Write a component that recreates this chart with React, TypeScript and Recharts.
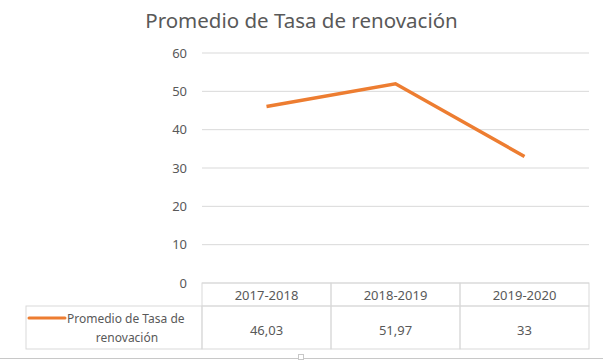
import React from 'react';
import { LineChart, Line, XAxis, YAxis, CartesianGrid } from 'recharts';

const categories = ['2017-2018', '2018-2019', '2019-2020'];
const seriesValues = [46.03, 51.97, 33];
const yTicks = [0, 10, 20, 30, 40, 50, 60];
const seriesName = 'Promedio de Tasa de renovación';
const legendLines = ['Promedio de Tasa de', 'renovación'];
const chartTitle = 'Promedio de Tasa de renovación';

const data = categories.map((c, i) => ({ cat: c, value: seriesValues[i] }));

const FONT = '"Noto Sans", sans-serif';
const TEXT = '#595959';
const BORDER = '#d9d9d9';
const ORANGE = '#ED7D31';
const BAND = 129;
const TABLE_TOP = 283;
const ROW_DIV = 306;
const TABLE_BOTTOM = 349;
const LEGEND_LEFT = 26;

const fmt = (v: number) => String(v).replace('.', ',');

const TableTick = (props: any) => {
  const { x, payload, index } = props;
  const left = x - BAND / 2;
  const i = payload?.index ?? index;
  return (
    <g>
      <rect x={left} y={TABLE_TOP} width={BAND} height={ROW_DIV - TABLE_TOP} fill="none" stroke={BORDER} strokeWidth={1} />
      <rect x={left} y={ROW_DIV} width={BAND} height={TABLE_BOTTOM - ROW_DIV} fill="none" stroke={BORDER} strokeWidth={1} />
      <text x={x} y={295} textAnchor="middle" dominantBaseline="central" fill={TEXT} fontSize={13} fontFamily={FONT}>
        {payload.value}
      </text>
      <text x={x} y={330} textAnchor="middle" dominantBaseline="central" fill={TEXT} fontSize={13} fontFamily={FONT}>
        {fmt(seriesValues[i])}
      </text>
      {i === 0 && (
        <g>
          <rect x={LEGEND_LEFT} y={ROW_DIV} width={left - LEGEND_LEFT} height={TABLE_BOTTOM - ROW_DIV} fill="none" stroke={BORDER} strokeWidth={1} />
          <line x1={29} y1={318} x2={65} y2={318} stroke={ORANGE} strokeWidth={3} strokeLinecap="round" />
          <text x={67} y={318} textAnchor="start" dominantBaseline="central" fill={TEXT} fontSize={12} fontFamily={FONT}>
            {legendLines[0]}
          </text>
          <text x={127} y={337} textAnchor="middle" dominantBaseline="central" fill={TEXT} fontSize={12} fontFamily={FONT}>
            {legendLines[1]}
          </text>
        </g>
      )}
    </g>
  );
};

export default function App() {
  return (
    <div style={{ position: 'absolute', left: 0, top: 0, width: 603, height: 361, background: '#fff', overflow: 'hidden' }}>
      <div
        style={{
          position: 'absolute',
          left: 0,
          top: 5,
          width: 603,
          textAlign: 'center',
          fontFamily: FONT,
          fontSize: 20.5,
          color: TEXT,
          lineHeight: '30px',
        }}
      >
        {chartTitle}
      </div>
      <LineChart
        width={603}
        height={361}
        data={data}
        margin={{ top: 53, right: 14, bottom: 12, left: 162 }}
        style={{ position: 'absolute', left: 0, top: 0 }}
      >
        <CartesianGrid vertical={false} stroke={BORDER} strokeWidth={1} />
        <XAxis
          dataKey="cat"
          scale="point"
          padding={{ left: BAND / 2, right: BAND / 2 }}
          axisLine={false}
          tickLine={false}
          height={66}
          interval={0}
          tick={<TableTick />}
        />
        <YAxis
          domain={[0, 60]}
          ticks={yTicks}
          axisLine={false}
          tickLine={false}
          width={40}
          tickMargin={9}
          tick={{ fill: TEXT, fontSize: 13, fontFamily: FONT }}
          interval={0}
        />
        <Line
          type="linear"
          dataKey="value"
          name={seriesName}
          stroke={ORANGE}
          strokeWidth={3.5}
          dot={false}
          activeDot={false}
          isAnimationActive={false}
        />
      </LineChart>
      <div style={{ position: 'absolute', left: 0, top: 358, width: 603, height: 1, background: '#c8c8c8' }} />
      <div style={{ position: 'absolute', left: 298, top: 354, width: 6, height: 6, border: '1px solid #c8c8c8', background: '#fff', boxSizing: 'border-box' }} />
    </div>
  );
}
